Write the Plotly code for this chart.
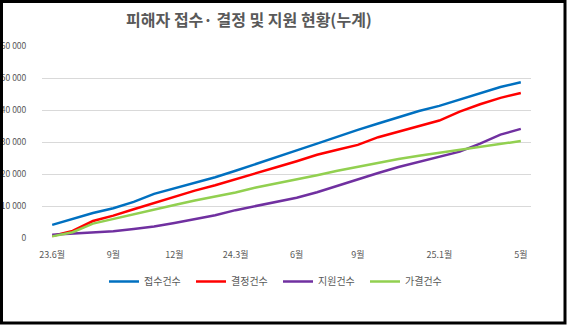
import plotly.graph_objects as go

months = ["23.6", "23.7", "23.8", "23.9", "23.10", "23.11", "23.12",
          "24.1", "24.2", "24.3", "24.4", "24.5", "24.6", "24.7", "24.8",
          "24.9", "24.10", "24.11", "24.12", "25.1", "25.2", "25.3", "25.4", "25.5"]

tick_months = ["23.6", "23.9", "23.12", "24.3", "24.6", "24.9", "25.1", "25.5"]
tick_text = ["23.6월", "9월", "12월", "24.3월", "6월", "9월", "25.1월", "5월"]

received = [4100, 6000, 7800, 9300, 11300, 13800, 15500, 17200, 19000, 21000, 23200, 25300,
            27400, 29500, 31700, 33800, 35800, 37800, 39700, 41300, 43300, 45300, 47200, 48700]
decided = [600, 2200, 5300, 7000, 9000, 11000, 12800, 14800, 16500, 18300, 20300, 22100,
           24000, 26000, 27600, 29100, 31500, 33300, 35000, 36700, 39500, 41800, 43800, 45300]
supported = [1000, 1400, 1800, 2100, 2800, 3600, 4700, 5800, 7100, 8700, 10000, 11300,
             12600, 14300, 16300, 18500, 20300, 22200, 23800, 25500, 27000, 29500, 32300, 34100]
approved = [500, 1800, 4500, 6000, 7500, 9000, 10300, 11700, 13000, 14200, 15800, 17000,
            18300, 19600, 21000, 22300, 23500, 24700, 25700, 26600, 27500, 28500, 29500, 30300]

series_names = ["접수건수", "결정건수", "지원건수", "가결건수"]
series_values = [received, decided, supported, approved]
colors = ["#0070C0", "#FF0000", "#7030A0", "#92D050"]

FONT = "Noto Sans CJK KR"
GRAY = "#595959"

fig = go.Figure()
for name, vals, col in zip(series_names, series_values, colors):
    fig.add_trace(go.Scatter(x=months, y=vals, mode="lines", name=name,
                             line=dict(color=col, width=2.5)))

W, H = 567, 327
ML, MR, MT, MB = 42, 36, 46, 89
PW, PH = W - ML - MR, H - MT - MB


def px_x(p):
    return (p - ML) / PW


def px_y(p):
    return (H - MB - p) / PH


fig.update_layout(
    width=W, height=H,
    margin=dict(l=ML, r=MR, t=MT, b=MB),
    paper_bgcolor="white", plot_bgcolor="white",
    separators=". ",
    font=dict(family=FONT, color=GRAY, size=9),
    title=dict(text="<b>피해자 접수· 결정 및 지원 현황(누계)</b>",
               x=249 / W, xanchor="center", xref="container",
               y=1 - 20 / H, yanchor="middle", yref="container",
               font=dict(family=FONT, size=16, color=GRAY)),
    xaxis=dict(type="category", tickmode="array", tickvals=tick_months, ticktext=tick_text,
               showgrid=False, showline=False, automargin=False,
               ticks="outside", ticklen=8, tickcolor="rgba(0,0,0,0)",
               tickfont=dict(size=9, color=GRAY), range=[-0.5, len(months) - 0.5]),
    yaxis=dict(range=[0, 60000], tickvals=[0, 10000, 20000, 30000, 40000, 50000, 60000],
               tickformat=",d", showgrid=True, gridcolor="#D9D9D9", gridwidth=1,
               zeroline=False, showline=False, automargin=False,
               ticks="outside", ticklen=10, tickcolor="rgba(0,0,0,0)",
               ticklabelstandoff=3,
               tickfont=dict(size=8.5, color=GRAY)),
    legend=dict(orientation="h", x=px_x(104), xanchor="left", y=px_y(267), yanchor="top",
                font=dict(size=10, color=GRAY), entrywidth=42, entrywidthmode="pixels",
                bgcolor="rgba(0,0,0,0)"),
    shapes=[dict(type="rect", xref="paper", yref="paper",
                 x0=px_x(1.5), x1=px_x(565), y0=px_y(1.5), y1=px_y(323),
                 line=dict(color="black", width=3), fillcolor="rgba(0,0,0,0)", layer="above")],
)

fig.write_html("out.html")
